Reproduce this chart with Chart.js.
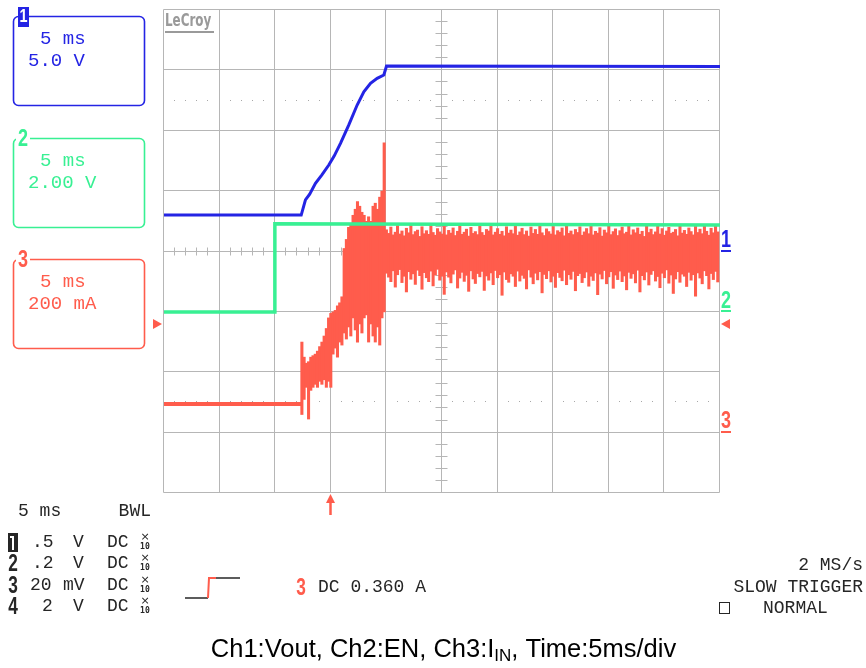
<!DOCTYPE html>
<html><head><meta charset="utf-8">
<script src="https://cdn.jsdelivr.net/npm/chart.js@4.4.0/dist/chart.umd.min.js"></script>
<style>html,body{margin:0;padding:0;background:#fff;overflow:hidden}#wrap{position:relative;width:866px;height:668px}</style>
</head><body><div id="wrap"><canvas id="c" width="866" height="668"></canvas></div>
<script>
// ---- Time base (ms), 5 ms/div, trigger at t = 0 ----
const timeRange = [-15, 35];
const timePerDiv = 5;

// ---- Channel settings: units per division and ground level (divisions from bottom) ----
const ch1PerDiv = 5,   ch1GroundDiv = 4;   // Vout, V
const ch2PerDiv = 2,   ch2GroundDiv = 3;   // EN, V
const ch3PerDiv = 200, ch3GroundDiv = 1;   // I_IN, mA
const triggerLevelMA = 360;

// ---- Ch1: Vout (V) ----
const ch1Time  = [-15, -2.66, -2.28, -1.9, -1.38, -0.8, -0.18, 0.3, 0.87, 1.62, 2.37, 2.97, 3.57, 4.17, 4.77, 5.01, 35];
const ch1Volts = [3.02, 3.02, 4.27, 4.75, 5.65, 6.35, 7.16, 7.9, 8.96, 10.48, 12.13, 13.23, 13.93, 14.34, 14.62, 15.36, 15.32];

// ---- Ch2: EN (V) ----
const ch2Time  = [-15, -5.03, -5.03, 35];
const ch2Volts = [0.0, 0.0, 2.92, 2.88];

// ---- Ch3: I_IN (mA) ----
const ch3BaseTime = [-15, -2.62];
const ch3BaseMA   = [95, 95];
const ch3NoiseStart = -2.6, ch3NoiseStep = 0.2;
const ch3PeakHigh = [
 300,250,230,235,250,255,260,270,285,300,320,345,380,395,400,405,420,430,450,610,
 640,680,690,720,740,765,750,730,720,700,715,700,750,760,740,780,800,960,
 672,660,681,655,664,686,658,668,652,677,
 662,690,656,666,671,650,682,659,669,657,
 687,663,654,676,665,658,683,655,670,661,
 678,653,667,689,657,664,674,651,680,660,
 666,656,684,663,654,673,668,688,655,664,
 676,657,667,652,682,661,671,659,686,654,
 665,677,656,668,651,681,660,673,657,690,
 662,653,675,666,658,683,655,669,664,678,
 652,687,660,668,656,673,663,682,654,665,
 676,659,689,655,667,661,679,651,671,662,
 685,656,666,675,653,669,681,659,664,688,
 655,672,662,678,657,667,650,684,663,674,
 656,665,686,658,676,654,668,680,660,664,
 673,652,690,661,670,657,678,666,655,683,
 663,674,659,686,667,654,677,662,690,665];
const ch3PeakLow = [
 60,110,150,45,140,150,160,150,170,160,175,150,170,150,260,280,250,300,290,330,
 310,350,320,380,340,300,360,330,380,390,300,360,320,300,350,290,380,400,
 528,515,500,536,482,523,540,497,518,466,
 533,508,526,491,538,520,475,530,513,500,
 535,486,522,541,505,518,458,532,515,496,
 525,539,479,512,531,501,521,468,536,509,
 494,527,516,534,471,519,505,529,490,537,
 513,523,455,532,507,498,526,518,484,535,
 502,521,511,476,539,515,493,528,506,533,
 463,524,510,536,499,518,481,530,514,503,
 538,490,523,508,534,470,520,527,497,513,
 532,485,518,504,529,457,525,509,537,493,
 516,533,478,522,507,535,500,519,473,531,
 511,526,496,538,466,520,506,532,489,524,
 536,502,517,480,528,513,539,495,522,461,
 509,533,498,525,518,484,531,505,523,452,
 529,512,493,536,520,476,527,507,534,499];

// ---- Colours ----
const BLUE = '#2424e4', GREEN = '#38f093', RED = '#ff5c4c', GRID = '#b6b6b6';

const pts = (xs, ys) => xs.map((x, i) => ({x, y: ys[i]}));
const ch3Noise = ch3PeakHigh.map((h, i) => ({x: ch3NoiseStart + i * ch3NoiseStep, y: [ch3PeakLow[i], h]}));

function yRange(perDiv, groundDiv) { return {min: -groundDiv * perDiv, max: (8 - groundDiv) * perDiv}; }

function txt(ctx, s, x, y, font, color, align, sx) {
  ctx.save(); ctx.font = font; ctx.fillStyle = color; ctx.textAlign = align || 'left'; ctx.textBaseline = 'middle';
  ctx.translate(x, y); ctx.scale(sx || 1, 1); ctx.fillText(s, 0, 0); ctx.restore();
}
function rrect(ctx, x, y, w, h, r) {
  ctx.beginPath(); ctx.moveTo(x + r, y); ctx.arcTo(x + w, y, x + w, y + h, r); ctx.arcTo(x + w, y + h, x, y + h, r);
  ctx.arcTo(x, y + h, x, y, r); ctx.arcTo(x, y, x + w, y, r); ctx.closePath();
}
function seg(ctx, x1, y1, x2, y2) { ctx.beginPath(); ctx.moveTo(x1, y1); ctx.lineTo(x2, y2); ctx.stroke(); }

const MONO = '19px "Liberation Mono", "DejaVu Sans Mono", monospace';
const MONO_S = '18px "Liberation Mono", "DejaVu Sans Mono", monospace';
const NARROW_B = 'bold 24px "Liberation Sans Narrow", "Liberation Sans", Arial, sans-serif';

const scopePlugin = {
  id: 'scope',
  beforeDatasetsDraw(chart) {
    const {ctx, chartArea: a, scales} = chart;
    const xs = scales.x;
    const divH = (a.bottom - a.top) / 8;
    const rowY = d => Math.round(a.bottom - d * divH) - 0.5;
    ctx.save();
    ctx.strokeStyle = GRID; ctx.lineWidth = 1;
    for (let t = timeRange[0]; t <= timeRange[1] + 1e-9; t += timePerDiv) {
      const p = Math.round(xs.getPixelForValue(t)) - 0.5;
      seg(ctx, p, a.top - 0.5, p, a.bottom - 0.5);
    }
    for (let d = 0; d <= 8; d++) { const p = rowY(d); seg(ctx, a.left - 0.5, p, a.right - 0.5, p); }
    const cy = rowY(4), cx = Math.round(xs.getPixelForValue((timeRange[0] + timeRange[1]) / 2)) - 0.5;
    for (let t = timeRange[0]; t <= timeRange[1] + 1e-9; t += timePerDiv / 5) {
      const p = Math.round(xs.getPixelForValue(t)) - 0.5; seg(ctx, p, cy - 4, p, cy + 4);
    }
    for (let k = 0; k <= 40; k++) { const p = Math.round(a.bottom - k * divH / 5) - 0.5; seg(ctx, cx - 6, p, cx + 6, p); }
    ctx.fillStyle = '#a8a8a8';
    [1.5, 6.5].forEach(d => {
      const p = Math.round(a.bottom - d * divH) - 1;
      for (let k = 0; k <= 50; k++) {
        if (k % 5 === 0) continue;
        const x = Math.round(xs.getPixelForValue(timeRange[0] + k * timePerDiv / 5)) - 1;
        ctx.fillRect(x, p, 1, 1);
      }
    });
    txt(ctx, 'LeCroy', 165, 22, 'bold 17px "Liberation Sans Narrow", "DejaVu Sans Condensed", sans-serif', '#9a9a9a', 'left', 0.78);
    ctx.fillStyle = '#9a9a9a'; ctx.fillRect(165, 31, 49, 2);
    ctx.restore();
  },
  afterDraw(chart) {
    const {ctx, chartArea: a, scales} = chart;
    const xs = scales.x;
    ctx.save();
    const boxes = [
      {y: 16, c: BLUE, l1: '5 ms', l2: '5.0 V', n: '1', inv: true},
      {y: 138, c: GREEN, l1: '5 ms', l2: '2.00 V', n: '2'},
      {y: 259, c: RED, l1: '5 ms', l2: '200 mA', n: '3'}
    ];
    boxes.forEach(b => {
      ctx.strokeStyle = b.c; ctx.lineWidth = 1.6;
      rrect(ctx, 13.5, b.y + 0.5, 131, 89, 5); ctx.stroke();
      txt(ctx, b.l1, 40, b.y + 22.5, MONO, b.c);
      txt(ctx, b.l2, 28, b.y + 44.5, MONO, b.c);
      if (b.inv) {
        ctx.fillStyle = b.c; ctx.fillRect(18, b.y - 9, 11, 20);
        txt(ctx, '1', 23.5, b.y + 1, 'bold 18px "Liberation Sans Narrow", "Liberation Sans", sans-serif', '#fff', 'center', 0.8);
      } else {
        ctx.fillStyle = '#fff'; ctx.fillRect(16, b.y - 7, 14, 16);
        txt(ctx, b.n, 23, b.y + 1, NARROW_B, b.c, 'center', 0.75);
      }
    });
    const marks = [
      {s: scales.y1, c: BLUE, n: '1'}, {s: scales.y2, c: GREEN, n: '2'}, {s: scales.y3, c: RED, n: '3'}
    ];
    marks.forEach(m => {
      const g = m.s.getPixelForValue(0);
      txt(ctx, m.n, 726, g - 11, NARROW_B, m.c, 'center', 0.75);
      ctx.fillStyle = m.c; ctx.fillRect(721, Math.round(g) - 2, 10, 2);
    });
    const ty = scales.y3.getPixelForValue(triggerLevelMA);
    ctx.fillStyle = RED;
    ctx.beginPath(); ctx.moveTo(153, ty - 5); ctx.lineTo(162, ty); ctx.lineTo(153, ty + 5); ctx.closePath(); ctx.fill();
    ctx.beginPath(); ctx.moveTo(730, ty - 5); ctx.lineTo(721, ty); ctx.lineTo(730, ty + 5); ctx.closePath(); ctx.fill();
    const tx = Math.round(xs.getPixelForValue(0)) - 0.5;
    ctx.strokeStyle = RED; ctx.lineWidth = 2.5; seg(ctx, tx, 500, tx, 515);
    ctx.beginPath(); ctx.moveTo(tx - 4.5, 503); ctx.lineTo(tx, 494); ctx.lineTo(tx + 4.5, 503); ctx.closePath(); ctx.fill();

    const K = '#262626';
    txt(ctx, '5 ms', 18, 511, MONO_S, K);
    txt(ctx, 'BWL', 151, 511, MONO_S, K, 'right');
    const rows = [
      {y: 542, n: '1', v: '.5', vx: 32, u: 'V', ux: 73},
      {y: 563, n: '2', v: '.2', vx: 32, u: 'V', ux: 73},
      {y: 585, n: '3', v: '20', vx: 30, u: 'mV', ux: 63},
      {y: 606, n: '4', v: '2', vx: 42, u: 'V', ux: 73}
    ];
    rows.forEach(r => {
      if (r.n === '1') {
        ctx.fillStyle = K; ctx.fillRect(8, r.y - 9, 10, 19);
        ctx.fillStyle = '#fff'; ctx.fillRect(12, r.y - 6, 2, 14); ctx.fillRect(10, r.y - 6, 3, 2);
      } else {
        txt(ctx, r.n, 13, r.y + 1, NARROW_B, K, 'center', 0.72);
      }
      txt(ctx, r.v, r.vx, r.y, MONO_S, K);
      txt(ctx, r.u, r.ux, r.y, MONO_S, K);
      txt(ctx, 'DC', 107, r.y, MONO_S, K);
      txt(ctx, '×', 145, r.y - 5, '11px "DejaVu Sans", sans-serif', K, 'center');
      txt(ctx, '10', 145, r.y + 5, 'bold 9px "DejaVu Sans Mono", monospace', K, 'center', 0.9);
    });
    ctx.lineWidth = 1.5; ctx.strokeStyle = K;
    seg(ctx, 185, 598, 208, 598); seg(ctx, 216, 578, 240, 578);
    ctx.strokeStyle = RED; ctx.lineWidth = 2;
    ctx.beginPath(); ctx.moveTo(208, 598); ctx.lineTo(209, 578); ctx.lineTo(216, 578); ctx.stroke();
    txt(ctx, '3', 301, 588, NARROW_B, RED, 'center', 0.72);
    txt(ctx, 'DC 0.360 A', 318, 587, MONO_S, K);
    txt(ctx, '2 MS/s', 863, 565, MONO_S, K, 'right');
    txt(ctx, 'SLOW TRIGGER', 863, 587, MONO_S, K, 'right');
    ctx.strokeStyle = K; ctx.lineWidth = 1; ctx.strokeRect(719.5, 602.5, 10, 11);
    txt(ctx, 'NORMAL', 763, 608, MONO_S, K);

    const F = '25.5px "Liberation Sans", Arial, sans-serif', FS = '17px "Liberation Sans", Arial, sans-serif';
    const p1 = 'Ch1:Vout, Ch2:EN, Ch3:I', p2 = 'IN', p3 = ', Time:5ms/div';
    ctx.font = F; const w1 = ctx.measureText(p1).width, w3 = ctx.measureText(p3).width;
    ctx.font = FS; const w2 = ctx.measureText(p2).width;
    let x0 = 443.5 - (w1 + w2 + w3) / 2;
    ctx.fillStyle = '#000'; ctx.textBaseline = 'alphabetic'; ctx.textAlign = 'left';
    ctx.font = F; ctx.fillText(p1, x0, 657);
    ctx.font = FS; ctx.fillText(p2, x0 + w1, 661);
    ctx.font = F; ctx.fillText(p3, x0 + w1 + w2, 657);
    ctx.restore();
  }
};

new Chart(document.getElementById('c'), {
  type: 'line',
  data: {
    datasets: [
      {label: 'Ch1 Vout', data: pts(ch1Time, ch1Volts), yAxisID: 'y1', borderColor: BLUE, borderWidth: 3, order: 1},
      {label: 'Ch2 EN', data: pts(ch2Time, ch2Volts), yAxisID: 'y2', borderColor: GREEN, borderWidth: 3.5, order: 2},
      {type: 'bar', label: 'Ch3 IIN noise', data: ch3Noise, yAxisID: 'y3', backgroundColor: RED, borderWidth: 0,
       barThickness: 2.4, grouped: false, order: 3},
      {label: 'Ch3 IIN', data: pts(ch3BaseTime, ch3BaseMA), yAxisID: 'y3', borderColor: RED, borderWidth: 4, order: 4}
    ]
  },
  options: {
    responsive: false, animation: false, devicePixelRatio: 1,
    layout: {padding: {left: 164, right: 146, top: 10, bottom: 175}},
    elements: {point: {radius: 0}, line: {tension: 0, borderCapStyle: 'butt', borderJoinStyle: 'miter'}},
    plugins: {legend: {display: false}, tooltip: {enabled: false}},
    scales: {
      x: {type: 'linear', min: timeRange[0], max: timeRange[1], offset: false, display: false},
      y1: {type: 'linear', ...yRange(ch1PerDiv, ch1GroundDiv), display: false},
      y2: {type: 'linear', ...yRange(ch2PerDiv, ch2GroundDiv), display: false},
      y3: {type: 'linear', ...yRange(ch3PerDiv, ch3GroundDiv), display: false}
    }
  },
  plugins: [scopePlugin]
});
</script></body></html>
